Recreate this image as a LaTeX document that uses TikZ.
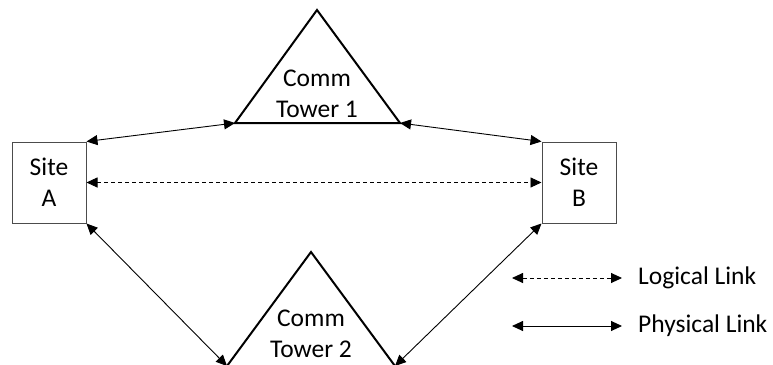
\documentclass[tikz,border=0pt]{standalone}
\usepackage{fontspec}
\setmainfont{Carlito}
\usetikzlibrary{arrows.meta}
\begin{document}
\begin{tikzpicture}[x=1pt,y=-1pt,
  sitebox/.style={draw=black!70,line width=1pt,minimum width=74pt,minimum height=81pt,inner sep=0pt,align=center,font=\fontsize{25.5}{31}\selectfont},
  lbl/.style={align=center,font=\fontsize{25.5}{31}\selectfont,inner sep=0pt},
  tower/.style={draw=black,line width=2pt,line join=miter},
  phys/.style={line width=0.9pt,{Triangle[length=11pt,width=10pt]}-{Triangle[length=11pt,width=10pt]}},
  logi/.style={line width=0.9pt,dashed,dash pattern=on 4pt off 3pt,{Triangle[length=11pt,width=10pt]}-{Triangle[length=11pt,width=10pt]}},
  legtext/.style={anchor=west,font=\fontsize{25.5}{31}\selectfont,inner sep=0pt}]
\useasboundingbox (0,0) rectangle (773,364);
% sites
\node[sitebox] (sa) at (49,182.5) {Site\\A};
\node[sitebox] (sb) at (579,182.5) {Site\\B};
% tower 1
\coordinate (t1a) at (317,10);
\coordinate (t1l) at (235,123);
\coordinate (t1r) at (400,123);
\draw[tower] (t1a) -- (t1l) -- (t1r) -- cycle;
\node[lbl] (t1) at (317,94) {Comm\\Tower 1};
% tower 2
\coordinate (t2a) at (311,252);
\coordinate (t2l) at (227,366);
\coordinate (t2r) at (395,366);
\draw[tower] (t2a) -- (t2l) -- (t2r) -- cycle;
\node[lbl] (t2) at (311,334) {Comm\\Tower 2};
% links
\draw[phys] (sa.north east) -- (t1l);
\draw[phys] (t1r) -- (sb.north west);
\draw[logi] (sa.east) -- (sb.west);
\draw[phys] (sa.south east) -- (t2l);
\draw[phys] (sb.south west) -- (t2r);
% legend
\coordinate (l1a) at (512,278);
\coordinate (l1b) at (622,278);
\coordinate (l2a) at (512,326);
\coordinate (l2b) at (622,326);
\draw[logi] (l1a) -- (l1b);
\draw[phys] (l2a) -- (l2b);
\node[legtext] (lt1) at (638,278) {Logical Link};
\node[legtext] (lt2) at (638,326) {Physical Link};
\end{tikzpicture}
\end{document}
